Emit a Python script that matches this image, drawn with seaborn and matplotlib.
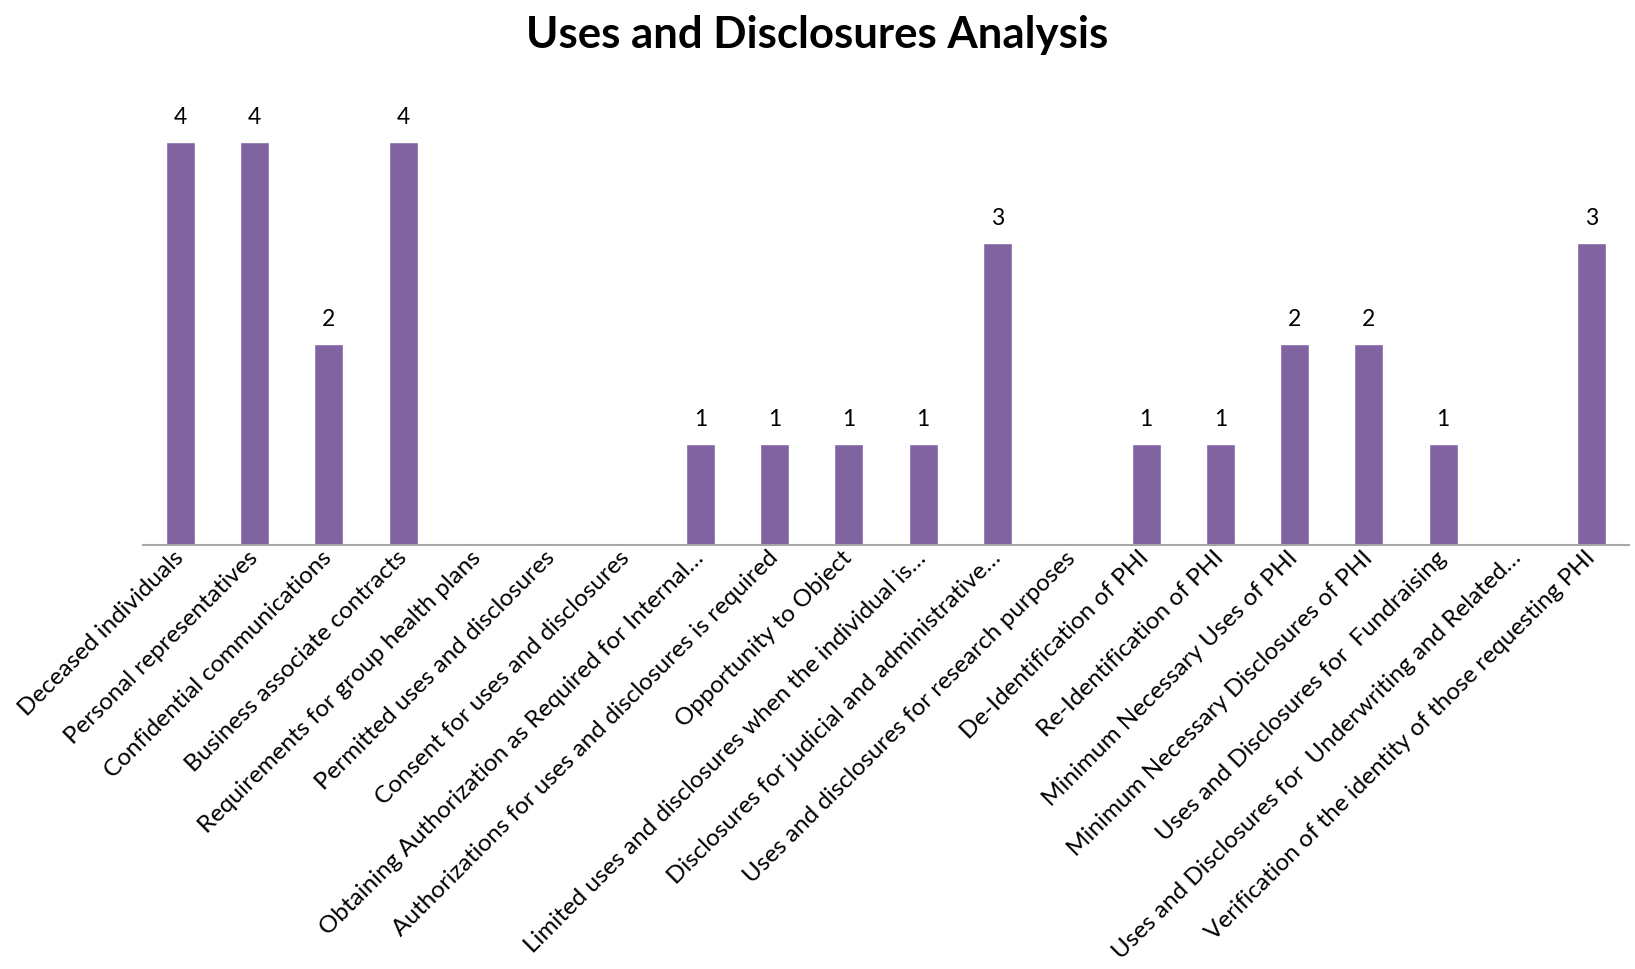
import matplotlib
matplotlib.use("Agg")
import matplotlib.pyplot as plt
import seaborn as sns
import pandas as pd

categories = [
    "Deceased individuals",
    "Personal representatives",
    "Confidential communications",
    "Business associate contracts",
    "Requirements for group health plans",
    "Permitted uses and disclosures",
    "Consent for uses and disclosures",
    "Obtaining Authorization as Required for Internal\u2026",
    "Authorizations for uses and disclosures is required",
    "Opportunity to Object",
    "Limited uses and disclosures when the individual is\u2026",
    "Disclosures for judicial and administrative\u2026",
    "Uses and disclosures for research purposes",
    "De-Identification of PHI",
    "Re-Identification of PHI",
    "Minimum Necessary Uses of PHI",
    "Minimum Necessary Disclosures of PHI",
    "Uses and Disclosures for  Fundraising",
    "Uses and Disclosures for  Underwriting and Related\u2026",
    "Verification of the identity of those requesting PHI",
]
counts = [4, 4, 2, 4, 0, 0, 0, 1, 1, 1, 1, 3, 0, 1, 1, 2, 2, 1, 0, 3]

df = pd.DataFrame({"category": categories, "count": counts})

sns.set_theme(style="white")
plt.rcParams["font.family"] = ["Lato", "DejaVu Sans"]

fig = plt.figure(figsize=(16.35, 9.69), dpi=100)
ax = fig.add_axes([0.0875, 0.4376, 0.9088, 0.4675])

sns.barplot(data=df, x="category", y="count", color="#8064A2",
            saturation=1, width=0.39, ax=ax)

ax.set_xlim(-0.5, len(categories) - 0.5)
ax.set_ylim(0, 4.5)
ax.set_xlabel("")
ax.set_ylabel("")
ax.set_yticks([])

for side in ("top", "right", "left"):
    ax.spines[side].set_visible(False)
ax.spines["bottom"].set_color("#A6A6A6")
ax.spines["bottom"].set_linewidth(1.5)

ax.tick_params(axis="x", length=0, pad=7)
ax.set_xticks(range(len(categories)))
ax.set_xticklabels(categories, rotation=45, ha="right", va="center",
                   rotation_mode="anchor", fontsize=17.5, color="#000000")

labels = [str(v) if v else "" for v in counts]
ax.bar_label(ax.containers[0], labels=labels, padding=10, fontsize=16.5,
             color="#000000")

fig.suptitle("Uses and Disclosures Analysis", fontsize=31.5, fontweight="bold",
             color="#000000", y=0.985, va="top")

fig.savefig("out.png", dpi=100, facecolor="white")
